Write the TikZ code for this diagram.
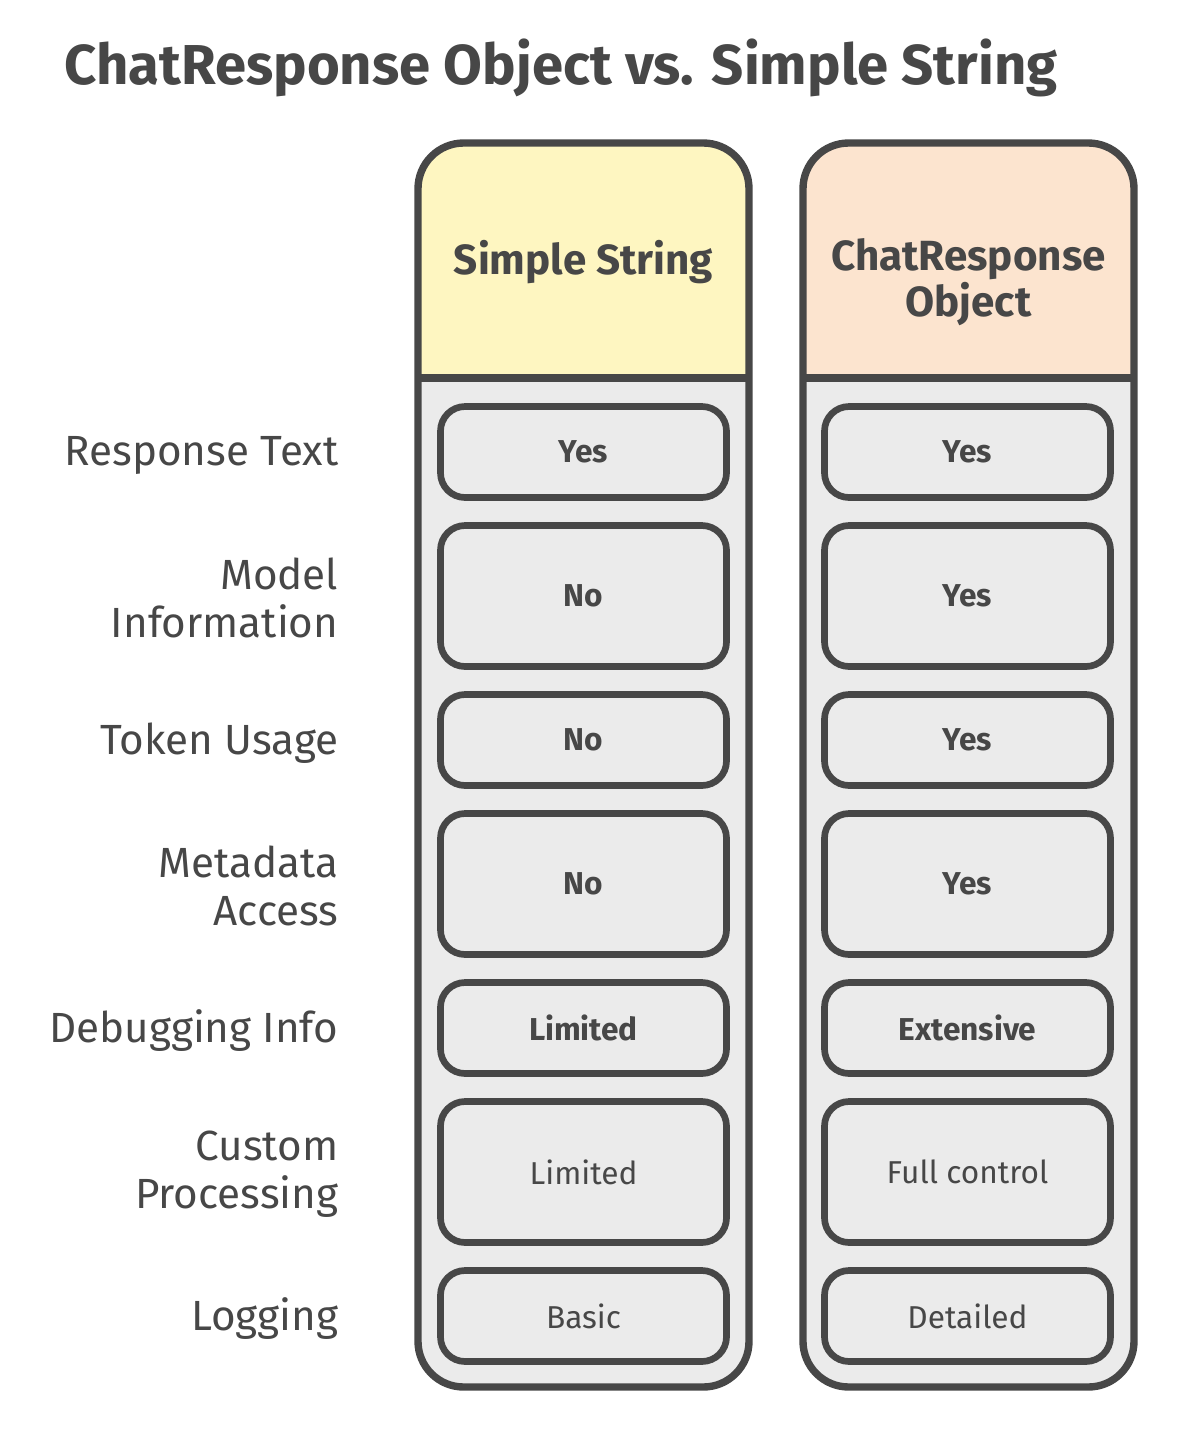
\documentclass[tikz,border=0pt]{standalone}
\usepackage{fontspec}
\setmainfont{Fira Sans}
\usepackage{tikz}
\usetikzlibrary{calc,positioning}
\definecolor{ink}{HTML}{474747}
\definecolor{cellgray}{HTML}{EBEBEB}
\definecolor{pale}{HTML}{FEF6C1}
\definecolor{peach}{HTML}{FCE4CF}
\tikzset{
  title/.style={text=ink, font=\bfseries\fontsize{16}{18}\selectfont, anchor=base west, inner sep=0pt},
  rowlab/.style={text=ink, anchor=east, align=right, inner sep=0pt, font=\fontsize{12}{13.6}\selectfont},
  head/.style={text=ink, align=center, font=\bfseries\fontsize{12}{13}\selectfont},
  cell/.style={draw=ink, fill=cellgray, line width=1.9pt, rounded corners=7pt,
    minimum width=2.86cm, minimum height=0.91cm, text=ink, font=\bfseries\fontsize{9}{11}\selectfont},
  tall/.style={minimum height=1.41cm},
  plain/.style={font=\fontsize{9}{11}\selectfont},
  colbox/.style={draw=ink, line width=2.1pt, rounded corners=13pt}
}
\begin{document}
\begin{tikzpicture}
\useasboundingbox[fill=white] (0,0) rectangle (11.86,-14.4);

\node[title] (ttl) at (0.64,-0.84) {ChatResponse Object vs. Simple String};

% column frames
\coordinate (A1) at (4.18,-1.43);
\coordinate (B1) at (7.49,-13.87);
\coordinate (A2) at (8.03,-1.43);
\coordinate (B2) at (11.34,-13.87);
\fill[cellgray, rounded corners=13pt] (A1) rectangle (B1);
\fill[cellgray, rounded corners=13pt] (A2) rectangle (B2);
\begin{scope}
  \clip[rounded corners=13pt] (A1) rectangle (B1);
  \fill[pale] (A1) rectangle (7.49,-3.78);
\end{scope}
\begin{scope}
  \clip[rounded corners=13pt] (A2) rectangle (B2);
  \fill[peach] (A2) rectangle (11.34,-3.78);
\end{scope}
\draw[colbox] (A1) rectangle (B1);
\draw[colbox] (A2) rectangle (B2);
\draw[ink, line width=2.1pt] (4.18,-3.78) -- (7.49,-3.78);
\draw[ink, line width=2.1pt] (8.03,-3.78) -- (11.34,-3.78);

\node[head] (hs) at (5.835,-2.62) {Simple String};
\node[head] (hc) at (9.685,-2.82) {ChatResponse\\Object};

% rows
\node[rowlab] (l1) at (3.39,-4.55) {Response Text};
\node[cell] (s1) at (5.835,-4.52) {Yes};
\node[cell] (c1) at (9.675,-4.52) {Yes};

\node[rowlab] (l2) at (3.39,-5.98) {Model\\Information};
\node[cell, tall] (s2) at (5.835,-5.96) {No};
\node[cell, tall] (c2) at (9.675,-5.96) {Yes};

\node[rowlab] (l3) at (3.39,-7.43) {Token Usage};
\node[cell] (s3) at (5.835,-7.40) {No};
\node[cell] (c3) at (9.675,-7.40) {Yes};

\node[rowlab] (l4) at (3.39,-8.86) {Metadata\\Access};
\node[cell, tall] (s4) at (5.835,-8.84) {No};
\node[cell, tall] (c4) at (9.675,-8.84) {Yes};

\node[rowlab] (l5) at (3.39,-10.31) {Debugging Info};
\node[cell] (s5) at (5.835,-10.28) {Limited};
\node[cell] (c5) at (9.675,-10.28) {Extensive};

\node[rowlab] (l6) at (3.39,-11.74) {Custom\\Processing};
\node[cell, tall, plain] (s6) at (5.835,-11.72) {Limited};
\node[cell, tall, plain] (c6) at (9.675,-11.72) {Full control};

\node[rowlab] (l7) at (3.39,-13.19) {Logging};
\node[cell, plain] (s7) at (5.835,-13.16) {Basic};
\node[cell, plain] (c7) at (9.675,-13.16) {Detailed};
\end{tikzpicture}
\end{document}
